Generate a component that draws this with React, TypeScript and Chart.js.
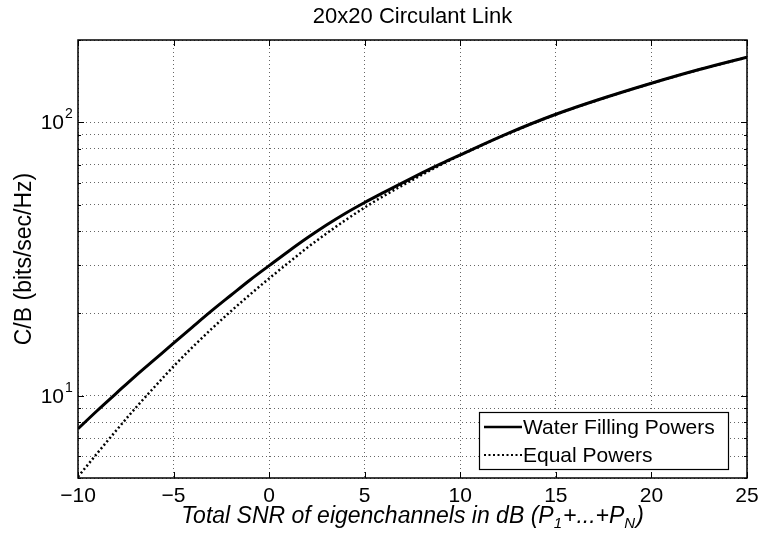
import React, { useEffect, useRef } from 'react';
import { Chart, registerables } from 'chart.js';

Chart.register(...registerables);

// Total SNR (dB) sample points
const snrDb = [-10, -9, -8, -7, -6, -5, -4, -3, -2, -1, 0, 1, 2, 3, 4, 5, 6, 7, 8, 9, 10, 12.5, 15, 17.5, 20, 22.5, 25];

// Capacity per bandwidth (bits/sec/Hz)
const waterFilling = [7.57, 8.81, 10.2, 11.8, 13.55, 15.56, 17.86, 20.46, 23.3, 26.5, 29.9, 33.7, 37.8, 42.1, 46.5, 50.9, 55.4, 60.2, 65.3, 70.6, 76.0, 91.1, 107, 122.7, 139, 156, 173];
const equalPowers = [5.05, 6.15, 7.46, 9.0, 10.76, 12.8, 15.07, 17.58, 20.37, 23.44, 26.85, 30.6, 34.8, 39.2, 43.9, 48.8, 53.8, 58.9, 64.3, 70.0, 75.8, 90.9, 106.8, 122.5, 138.8, 155.8, 172.8];

const xTickValues = [-10, -5, 0, 5, 10, 15, 20, 25];
const yGridValues = [5, 6, 7, 8, 9, 10, 20, 30, 40, 50, 60, 70, 80, 90, 100, 200];
const yDecadeExponents = [1, 2];

const titleText = '20x20 Circulant Link';
const yAxisTitle = 'C/B (bits/sec/Hz)';
const seriesNames = ['Water Filling Powers', 'Equal Powers'];

const FONT = "'Liberation Sans', Arial, Helvetica, sans-serif";
const EQUAL_DASH = [2, 2.5];

const fmtTick = (v: number) => (v < 0 ? '\u2212' + Math.abs(v) : String(v));

const framePlugin = {
  id: 'matlabFrame',
  afterDraw(chart: any) {
    const ctx: CanvasRenderingContext2D = chart.ctx;
    const area = chart.chartArea;
    const xs = chart.scales.x;
    const ys = chart.scales.y;
    ctx.save();
    ctx.fillStyle = '#000';
    ctx.strokeStyle = '#000';

    // axes box
    ctx.lineWidth = 1.5;
    ctx.setLineDash([]);
    ctx.strokeRect(area.left, area.top, area.right - area.left, area.bottom - area.top);

    // inward tick marks
    ctx.lineWidth = 1;
    ctx.beginPath();
    xTickValues.forEach((v) => {
      const px = Math.round(xs.getPixelForValue(v)) + 0.5;
      ctx.moveTo(px, area.bottom);
      ctx.lineTo(px, area.bottom - 6);
      ctx.moveTo(px, area.top);
      ctx.lineTo(px, area.top + 6);
    });
    yGridValues.forEach((v) => {
      const py = Math.round(ys.getPixelForValue(v)) + 0.5;
      const len = v === 10 || v === 100 ? 6 : 3;
      ctx.moveTo(area.left, py);
      ctx.lineTo(area.left + len, py);
      ctx.moveTo(area.right, py);
      ctx.lineTo(area.right - len, py);
    });
    ctx.stroke();

    // x tick labels
    ctx.font = `21px ${FONT}`;
    ctx.textAlign = 'center';
    ctx.textBaseline = 'alphabetic';
    xTickValues.forEach((v) => {
      ctx.fillText(fmtTick(v), xs.getPixelForValue(v), area.bottom + 24);
    });

    // y tick labels: 10^n
    yDecadeExponents.forEach((e) => {
      const py = ys.getPixelForValue(Math.pow(10, e));
      ctx.font = `21px ${FONT}`;
      ctx.textAlign = 'right';
      ctx.fillText('10', area.left - 14, py + 7);
      ctx.font = `14px ${FONT}`;
      ctx.textAlign = 'left';
      ctx.fillText(String(e), area.left - 13, py - 4);
    });

    // title
    const cx = (area.left + area.right) / 2;
    ctx.font = `22px ${FONT}`;
    ctx.textAlign = 'center';
    ctx.fillText(titleText, cx, area.top - 17);

    // y axis title
    ctx.save();
    ctx.translate(31, (area.top + area.bottom) / 2);
    ctx.rotate(-Math.PI / 2);
    ctx.font = `23px ${FONT}`;
    ctx.textAlign = 'center';
    ctx.fillText(yAxisTitle, 0, 0);
    ctx.restore();

    // x axis title with subscripts
    const mainFont = `italic 23px ${FONT}`;
    const subFont = `italic 15px ${FONT}`;
    const parts: Array<[string, boolean]> = [
      ['Total SNR of eigenchannels in dB (P', false],
      ['1', true],
      ['+...+P', false],
      ['N', true],
      [')', false],
    ];
    let total = 0;
    parts.forEach(([t, sub]) => {
      ctx.font = sub ? subFont : mainFont;
      total += ctx.measureText(t).width + (sub ? 1 : 0);
    });
    let tx = cx - total / 2;
    const baseY = area.bottom + 45;
    ctx.textAlign = 'left';
    parts.forEach(([t, sub]) => {
      ctx.font = sub ? subFont : mainFont;
      ctx.fillText(t, tx, sub ? baseY + 5 : baseY);
      tx += ctx.measureText(t).width + (sub ? 1 : 0);
    });

    // legend
    const lx0 = area.right - 268;
    const ly0 = area.bottom - 66;
    const lw = 249;
    const lh = 57;
    ctx.fillStyle = '#fff';
    ctx.fillRect(lx0, ly0, lw, lh);
    ctx.lineWidth = 1.2;
    ctx.strokeStyle = '#000';
    ctx.strokeRect(lx0 + 0.5, ly0 + 0.5, lw, lh);
    const rows = [ly0 + 15, ly0 + 43];
    ctx.beginPath();
    ctx.lineWidth = 2.5;
    ctx.moveTo(lx0 + 5, rows[0]);
    ctx.lineTo(lx0 + 43, rows[0]);
    ctx.stroke();
    ctx.beginPath();
    ctx.lineWidth = 2;
    ctx.setLineDash(EQUAL_DASH);
    ctx.moveTo(lx0 + 5, rows[1]);
    ctx.lineTo(lx0 + 43, rows[1]);
    ctx.stroke();
    ctx.setLineDash([]);
    ctx.fillStyle = '#000';
    ctx.font = `21px ${FONT}`;
    ctx.textAlign = 'left';
    ctx.textBaseline = 'middle';
    ctx.fillText(seriesNames[0], lx0 + 44, rows[0] + 1);
    ctx.fillText(seriesNames[1], lx0 + 44, rows[1] + 1);

    ctx.restore();
  },
};

export default function App() {
  const canvasRef = useRef<HTMLCanvasElement | null>(null);

  useEffect(() => {
    if (!canvasRef.current) return;
    const toPoints = (ys: number[]) => snrDb.map((x, i) => ({ x, y: ys[i] }));
    const chart = new Chart(canvasRef.current, {
      type: 'line',
      data: {
        datasets: [
          {
            label: seriesNames[0],
            data: toPoints(waterFilling),
            borderColor: '#000',
            borderWidth: 3,
            pointRadius: 0,
            cubicInterpolationMode: 'monotone',
            fill: false,
          },
          {
            label: seriesNames[1],
            data: toPoints(equalPowers),
            borderColor: '#000',
            borderWidth: 2.5,
            borderDash: EQUAL_DASH,
            pointRadius: 0,
            cubicInterpolationMode: 'monotone',
            fill: false,
          },
        ],
      },
      options: {
        responsive: false,
        animation: false,
        devicePixelRatio: 1,
        layout: { padding: { top: 40, right: 13, bottom: 0, left: 0 } },
        plugins: {
          legend: { display: false },
          title: { display: false },
          tooltip: { enabled: false },
        },
        scales: {
          x: {
            type: 'linear',
            min: -10,
            max: 25,
            ticks: { display: false, stepSize: 5 },
            grid: { color: 'rgba(0,0,0,0.6)', lineWidth: 1, drawTicks: false },
            border: { display: false, dash: [1, 3] },
            afterBuildTicks: (scale: any) => {
              scale.ticks = xTickValues.map((value) => ({ value }));
            },
            afterFit: (scale: any) => {
              scale.height = 60;
            },
          },
          y: {
            type: 'logarithmic',
            min: 5,
            max: 200,
            ticks: { display: false },
            grid: { color: 'rgba(0,0,0,0.6)', lineWidth: 1, drawTicks: false },
            border: { display: false, dash: [1, 3] },
            afterBuildTicks: (scale: any) => {
              scale.ticks = yGridValues.map((value) => ({ value }));
            },
            afterFit: (scale: any) => {
              scale.width = 78;
            },
          },
        },
      },
      plugins: [framePlugin],
    } as any);
    return () => chart.destroy();
  }, []);

  return (
    <div style={{ position: 'absolute', left: 0, top: 0, width: 760, height: 538, background: '#fff' }}>
      <canvas ref={canvasRef} width={760} height={538} style={{ display: 'block' }} />
    </div>
  );
}
